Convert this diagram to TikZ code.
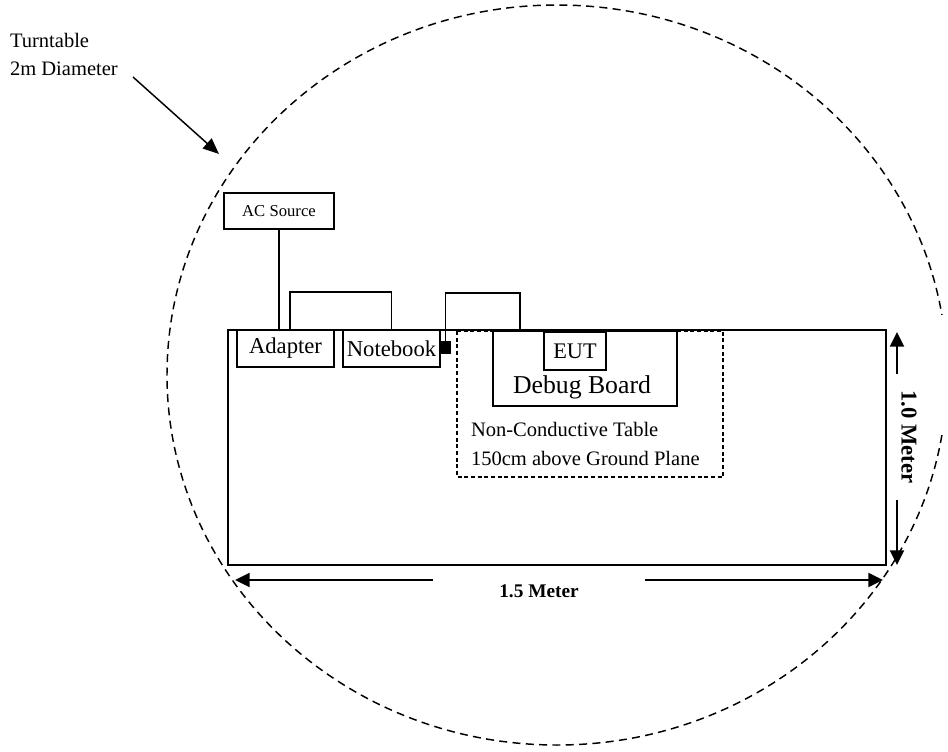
\documentclass[tikz,border=0pt]{standalone}
\usepackage{fontspec}
\setmainfont{Liberation Serif}
\usetikzlibrary{arrows.meta,calc}

\begin{document}
\begin{tikzpicture}[x=0.75pt,y=-0.75pt,
  box/.style={draw,line width=0.8pt,inner sep=0pt,outer sep=0pt},
  txt/.style={inner sep=0pt,outer sep=0pt},
  cable/.style={line width=1.1pt},
  dimarr/.style={line width=1.5pt,-{Triangle[length=11pt,width=10.5pt]}}]
\useasboundingbox (0,0) rectangle (948,751);
% turntable outline
\draw[line width=1.1pt,dash pattern=on 6pt off 4pt] (557,375) ellipse [x radius=292.5pt,y radius=277.5pt];
\fill[white] (925,315) rectangle (948,433);
\node[txt,anchor=base west,font=\fontsize{15.4}{18}\selectfont] (tt) at (10,47) {Turntable};
\node[txt,anchor=base west,font=\fontsize{15.4}{18}\selectfont] (dia) at (10,75) {2m Diameter};
\coordinate (ttfrom) at (133,77);
\coordinate (tttip) at (219,154);
\draw[line width=1.1pt,-{Triangle[length=12pt,width=10pt]}] (ttfrom) -- (tttip);
% table and test area
\draw[line width=1.9pt] (228,330) coordinate (tnw) rectangle (886,565) coordinate (tse);
\draw[line width=0.8pt,dash pattern=on 3pt off 2pt] (457,331) rectangle (723,477);
\node[txt,anchor=base west,font=\fontsize{15.4}{18}\selectfont] (nc1) at (471,436) {Non-Conductive Table};
\node[txt,anchor=base west,font=\fontsize{15.4}{18}\selectfont] (nc2) at (471,465) {150cm above Ground Plane};
% equipment
\node[box,minimum width=82.5pt,minimum height=27pt,font=\fontsize{12.5}{15}\selectfont] (ac) at (279,211) {AC Source};
\node[box,minimum width=72.75pt,minimum height=27.75pt,font=\fontsize{17}{20}\selectfont] (adapter) at (285.5,348.5) {Adapter};
\node[box,minimum width=72.75pt,minimum height=27.75pt,font=\fontsize{17}{20}\selectfont] (notebook) at (391.5,348.5) {Notebook};
\node[fill=black,inner sep=0pt,minimum width=8.25pt,minimum height=9.75pt] (plug) at (445.5,347.5) {};
\node[box,line width=1.5pt,minimum width=138pt,minimum height=56.25pt] (dbg) at (585,368.5) {};
\node[box,minimum width=46.5pt,minimum height=28.5pt,font=\fontsize{16.7}{20}\selectfont] (eut) at (575,351) {EUT};
\node[txt,anchor=base,font=\fontsize{19.3}{22}\selectfont] (dbglbl) at (582,393) {Debug Board};
% cables
\draw[cable] (ac.south) -- (ac.south |- adapter.north);
\draw[cable] ($(adapter.north west)+(53,0)$) |- ($(notebook.north)+(0,-38)$) -- (notebook.north);
\draw[cable] (plug.north) |- ($(dbg.north west)+(27,-38)$) -- ($(dbg.north west)+(27,0)$);
% dimensions
\coordinate (wl) at (235,580);
\coordinate (wr) at (883,580);
\node[txt,inner xsep=50pt,font=\bfseries\fontsize{14.5}{17}\selectfont] (lenlbl) at (539,591) {1.5 Meter};
\draw[dimarr] (lenlbl.west |- wl) -- (wl);
\draw[dimarr] (lenlbl.east |- wr) -- (wr);
\coordinate (vt) at (897,332);
\coordinate (vb) at (897,565);
\node[txt,rotate=-90,inner xsep=12pt,font=\bfseries\fontsize{17}{20}\selectfont] (widlbl) at (909,437) {1.0 Meter};
\draw[dimarr] (widlbl.west -| vt) -- (vt);
\draw[dimarr] (widlbl.east -| vb) -- (vb);
\end{tikzpicture}
\end{document}
